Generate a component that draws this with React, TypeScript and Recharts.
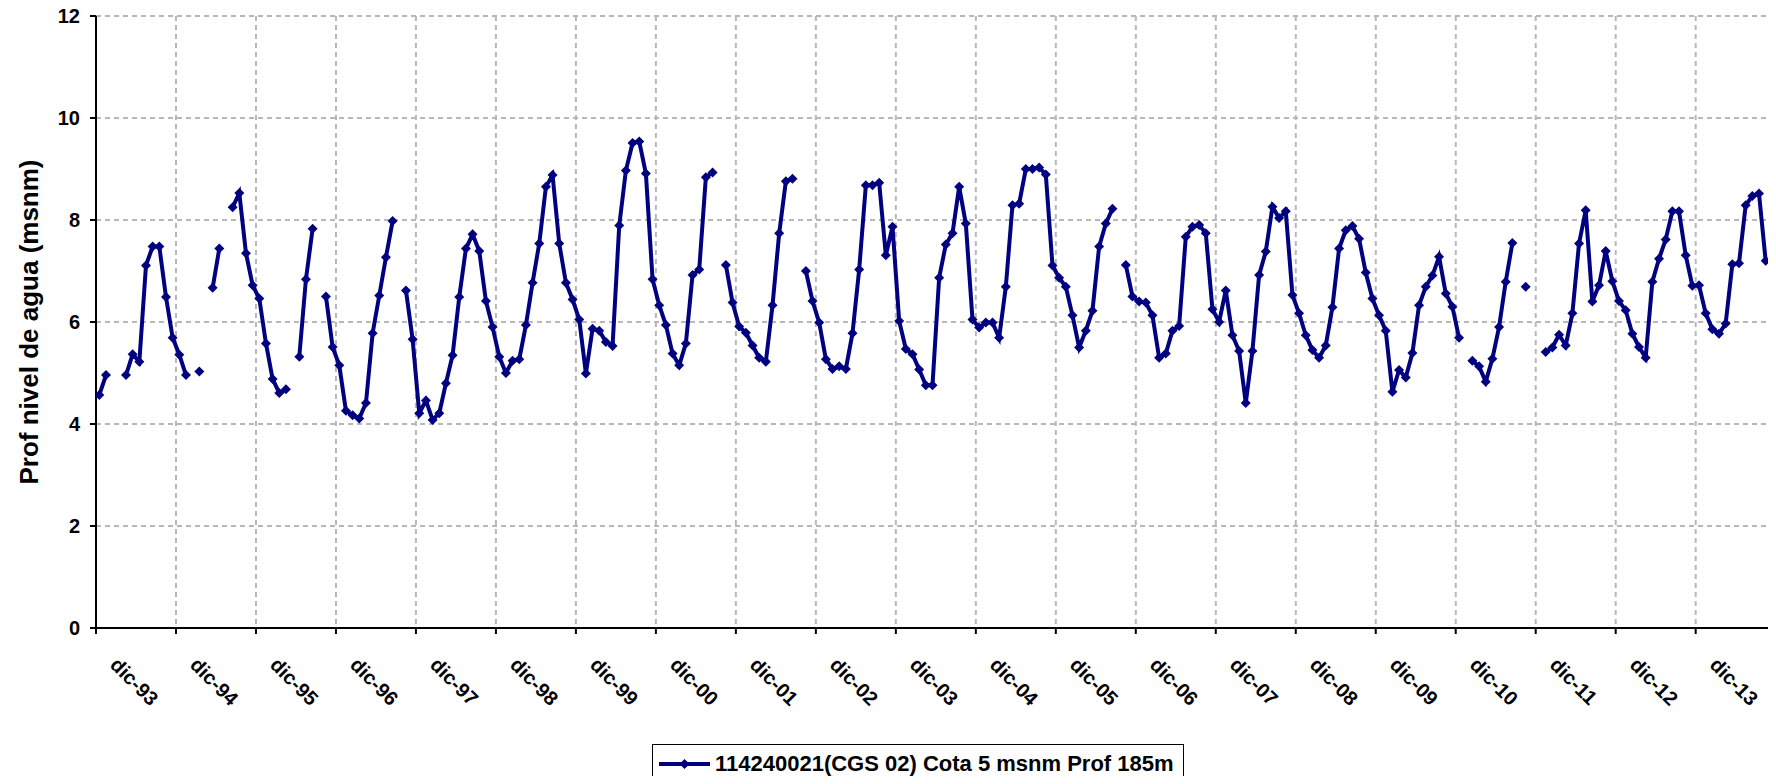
import { CartesianGrid, Legend, Line, LineChart, XAxis, YAxis } from 'recharts'

const FUENTE = 'Arial, "Liberation Sans", sans-serif'
const AZUL = '#000080'

const meses = ['dic', 'ene', 'feb', 'mar', 'abr', 'may', 'jun', 'jul', 'ago', 'sep', 'oct', 'nov']

// Prof nivel de agua (msnm), mensual desde dic-93; cada fila va de dic a nov
const nivel: (number | null)[] = [
  4.57, 4.96, null, null, 4.96, 5.37, 5.22, 7.11, 7.48, 7.48, 6.49, 5.69,
  5.36, 4.96, null, 5.03, null, 6.67, 7.44, null, 8.25, 8.53, 7.35, 6.72,
  6.46, 5.58, 4.88, 4.61, 4.68, null, 5.32, 6.84, 7.83, null, 6.50, 5.51,
  5.15, 4.26, 4.17, 4.11, 4.41, 5.78, 6.52, 7.27, 7.98, null, 6.62, 5.66,
  4.21, 4.46, 4.08, 4.21, 4.80, 5.35, 6.49, 7.44, 7.72, 7.39, 6.41, 5.90,
  5.32, 5.00, 5.24, 5.27, 5.94, 6.77, 7.54, 8.65, 8.88, 7.54, 6.77, 6.44,
  6.05, 4.99, 5.87, 5.83, 5.61, 5.53, 7.89, 8.97, 9.51, 9.54, 8.91, 6.84,
  6.33, 5.94, 5.38, 5.15, 5.58, 6.92, 7.03, 8.84, 8.93, null, 7.12, 6.38,
  5.91, 5.79, 5.54, 5.30, 5.22, 6.33, 7.74, 8.76, 8.81, null, 7.00, 6.41,
  5.99, 5.27, 5.08, 5.13, 5.08, 5.78, 7.03, 8.68, 8.68, 8.73, 7.31, 7.87,
  6.02, 5.47, 5.37, 5.07, 4.76, 4.76, 6.87, 7.52, 7.74, 8.65, 7.93, 6.05,
  5.89, 5.99, 5.99, 5.69, 6.69, 8.29, 8.32, 9.00, 9.00, 9.03, 8.89, 7.11,
  6.87, 6.69, 6.13, 5.50, 5.83, 6.22, 7.48, 7.93, 8.22, null, 7.12, 6.50,
  6.40, 6.38, 6.13, 5.30, 5.38, 5.83, 5.92, 7.67, 7.87, 7.90, 7.74, 6.25,
  6.00, 6.62, 5.74, 5.43, 4.41, 5.43, 6.92, 7.38, 8.26, 8.04, 8.17, 6.53,
  6.17, 5.74, 5.45, 5.30, 5.54, 6.29, 7.44, 7.80, 7.88, 7.63, 6.97, 6.46,
  6.13, 5.83, 4.63, 5.06, 4.91, 5.39, 6.33, 6.69, 6.91, 7.28, 6.56, 6.30,
  5.69, null, 5.24, 5.13, 4.83, 5.28, 5.90, 6.79, 7.55, null, 6.69, null,
  null, 5.41, 5.50, 5.75, 5.54, 6.17, 7.54, 8.19, 6.40, 6.72, 7.39, 6.80,
  6.41, 6.23, 5.77, 5.51, 5.30, 6.79, 7.24, 7.62, 8.17, 8.17, 7.31, 6.71,
  6.72, 6.17, 5.86, 5.77, 5.97, 7.13, 7.15, 8.29, 8.47, 8.52, 7.20,
]

const etiquetasX = [
  'dic-93', 'dic-94', 'dic-95', 'dic-96', 'dic-97', 'dic-98', 'dic-99',
  'dic-00', 'dic-01', 'dic-02', 'dic-03', 'dic-04', 'dic-05', 'dic-06',
  'dic-07', 'dic-08', 'dic-09', 'dic-10', 'dic-11', 'dic-12', 'dic-13',
]

const ticksY = [0, 2, 4, 6, 8, 10, 12]

const nombreSerie = '114240021(CGS 02) Cota 5 msnm Prof 185m'

const ticksX = etiquetasX.map((_, k) => k * 12 - 0.5).concat(nivel.length - 0.5)

const datos = nivel.map((v, i) => {
  const anio = 1993 + Math.floor((i + 11) / 12)
  return { i, mes: `${meses[i % 12]}-${String(anio).slice(2)}`, nivel: v }
})

const TickX = (props: any) => {
  const { x, y, payload } = props
  const txt = etiquetasX[Math.round((payload.value + 0.5) / 12)]
  if (!txt) return <g />
  const tx = x + 13
  const ty = y + 32
  return (
    <text x={tx} y={ty} transform={`rotate(45, ${tx}, ${ty})`} fontSize={20} fontWeight="bold" fill="#000">
      {txt}
    </text>
  )
}

const TituloY = () => (
  <text x={29} y={322} transform="rotate(-90, 29, 322)" textAnchor="middle" dominantBaseline="central"
    fontSize={26} fontWeight="bold" fill="#000">
    Prof nivel de agua (msnm)
  </text>
)

const Rombo = (props: any) => {
  const { cx, cy, index } = props
  if (cx == null || cy == null) return <g key={`r${index}`} />
  const r = 5
  return <path key={`r${index}`} d={`M${cx},${cy - r}L${cx + r},${cy}L${cx},${cy + r}L${cx - r},${cy}Z`} fill={AZUL} />
}

const Leyenda = () => (
  <div style={{
    boxSizing: 'border-box', width: 532, height: 40, border: '1.5px solid #000', background: '#fff',
    display: 'flex', alignItems: 'center', paddingLeft: 6, fontFamily: FUENTE, fontWeight: 'bold',
    fontSize: 22, color: '#000', whiteSpace: 'nowrap',
  }}>
    <svg width={51} height={12}>
      <line x1={0} y1={6} x2={51} y2={6} stroke={AZUL} strokeWidth={4} />
      <path d="M25.5,1L30.5,6L25.5,11L20.5,6Z" fill={AZUL} />
    </svg>
    <span style={{ marginLeft: 5 }}>{nombreSerie}</span>
  </div>
)

const GraficoNivel = () => (
  <div style={{ margin: -8, width: 1776, height: 784 }}>
    <LineChart width={1776} height={784} data={datos} margin={{ top: 16, right: 7, bottom: 0, left: 0 }}
      style={{ fontFamily: FUENTE }}>
      <CartesianGrid stroke="#b8b8b8" strokeDasharray="5 4" strokeWidth={2} />
      <XAxis type="number" dataKey="i" domain={[-0.5, nivel.length - 0.5]} ticks={ticksX} interval={0}
        height={156} tickSize={6} tickMargin={0} tick={<TickX />} allowDataOverflow
        axisLine={{ stroke: '#000', strokeWidth: 2 }} tickLine={{ stroke: '#000', strokeWidth: 2 }} />
      <YAxis type="number" domain={[0, 12]} ticks={ticksY} interval={0} width={96} tickSize={6} tickMargin={10}
        tick={{ fill: '#000', fontSize: 20, fontWeight: 'bold' }}
        axisLine={{ stroke: '#000', strokeWidth: 2 }} tickLine={{ stroke: '#000', strokeWidth: 2 }}
        label={<TituloY />} />
      <Legend layout="horizontal" verticalAlign="middle" align="center" content={<Leyenda />}
        wrapperStyle={{ left: 652, top: 744, width: 532, height: 40 }} />
      <Line type="linear" dataKey="nivel" name={nombreSerie} stroke={AZUL} strokeWidth={4}
        dot={(p: any) => <Rombo key={`r${p.index}`} {...p} />} activeDot={false} isAnimationActive={false} />
    </LineChart>
  </div>
)

export default function App() {
  return <GraficoNivel />
}
